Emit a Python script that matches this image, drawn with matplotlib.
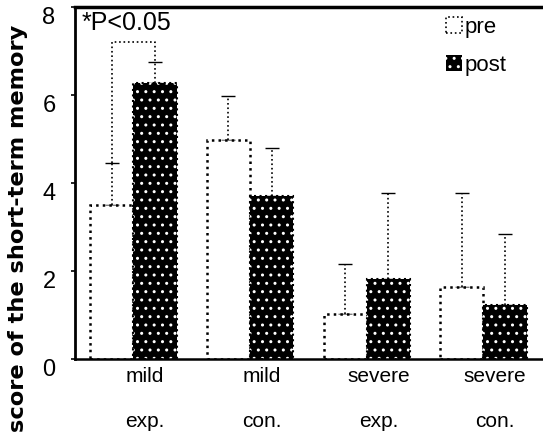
import matplotlib
matplotlib.use("Agg")
import matplotlib.pyplot as plt
import matplotlib.patches as mpatches
import matplotlib.transforms as mtransforms
import numpy as np

plt.rcParams['font.family'] = ['Liberation Sans', 'DejaVu Sans']

categories = ["mild\nexp.", "mild\ncon.", "severe\nexp.", "severe\ncon."]
pre_vals = [3.5, 4.98, 1.03, 1.64]
post_vals = [6.27, 3.7, 1.81, 1.23]
pre_err = [0.95, 1.0, 1.12, 2.13]
post_err = [0.48, 1.1, 1.96, 1.62]
yticks = [0, 2, 4, 6, 8]
sig_text = "*P<0.05"
bracket_level = 7.2
ylabel = "score of the short-term memory"

fig = plt.figure(figsize=(5.43, 4.44), dpi=100)
ax = fig.add_axes([75/543, 1-359/444, 1-75/543, (359-7)/444])

x = np.arange(len(categories))
w = 0.37

ax.bar(x - w/2, pre_vals, w, facecolor='white', edgecolor='black',
       linestyle=':', linewidth=1.8, zorder=2)
ax.bar(x + w/2, post_vals, w, facecolor='black', edgecolor='white',
       hatch='..', linewidth=0, zorder=2)
ax.bar(x + w/2, post_vals, w, facecolor='none', edgecolor='black',
       linestyle=':', linewidth=1.5, zorder=3)

for xs, vals, errs in [(x - w/2, pre_vals, pre_err), (x + w/2, post_vals, post_err)]:
    eb = ax.errorbar(xs, vals, yerr=[np.zeros(len(vals)), errs], fmt='none',
                     ecolor='black', elinewidth=1.2, capsize=5, capthick=1.0, zorder=1)
    eb[2][0].set_linestyle(':')

# significance bracket
x0 = x[0] - w/2
x1 = x[0] + w/2
ax.plot([x0, x0, x1, x1],
        [pre_vals[0] + pre_err[0], bracket_level, bracket_level, post_vals[0] + post_err[0]],
        color='black', linestyle=':', linewidth=1.2, zorder=1)
ax.text(0.015, 0.99, sig_text, transform=ax.transAxes, ha='left', va='top',
        fontsize=18)

ax.set_xlim(-0.5, 3.51)
ax.set_ylim(0, 8)
ax.set_yticks(yticks)
ax.set_yticklabels([str(t) for t in yticks], fontsize=17)
ax.set_xticks(x + 0.1)
ax.set_xticklabels(categories, fontsize=15, linespacing=2.7)
ax.tick_params(axis='x', length=0, pad=6)
ax.tick_params(axis='y', length=3, width=1.2, pad=11)
offset = mtransforms.ScaledTranslation(0, -8/100, fig.dpi_scale_trans)
for lbl in ax.get_yticklabels():
    lbl.set_transform(lbl.get_transform() + offset)

ax.spines['left'].set_linewidth(2.0)
ax.spines['top'].set_linewidth(2.5)
ax.spines['bottom'].set_linewidth(1.8)
ax.spines['right'].set_visible(False)

fig.text(18/543, 1-228/444, ylabel, rotation=90, ha='center', va='center',
         fontsize=16.2, fontweight='bold', family='DejaVu Sans')

h_pre = mpatches.Patch(facecolor='white', edgecolor='black', linestyle=':', linewidth=1.2, label='pre')
h_post = mpatches.Patch(facecolor='black', edgecolor='white', hatch='..', linewidth=0, label='post')
fig.legend(handles=[h_pre, h_post], loc='upper left', bbox_to_anchor=(446/543, 1-17/444),
           frameon=False, fontsize=16, handlelength=0.7, handleheight=0.7,
           handletextpad=0.15, labelspacing=0.75, borderpad=0, borderaxespad=0)

fig.savefig("out.png", dpi=100)
